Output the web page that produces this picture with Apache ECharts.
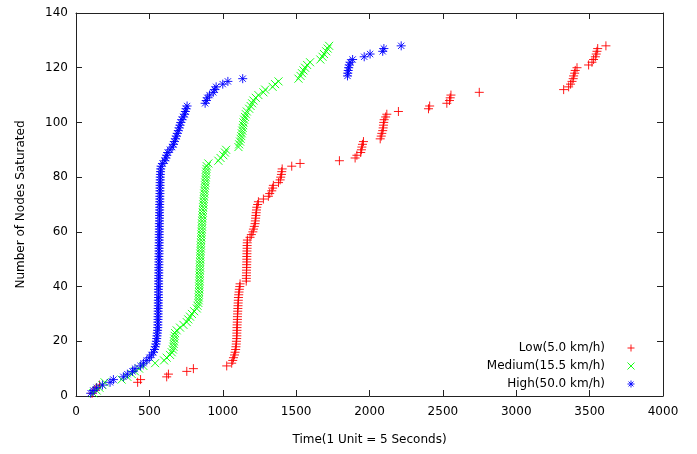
<!DOCTYPE html>
<html>
<head>
<meta charset="utf-8">
<script src="https://cdn.jsdelivr.net/npm/echarts@6/dist/echarts.min.js"></script>
<style>
html,body{margin:0;padding:0;background:#fff;}
#chart{width:697px;height:454px;}
</style>
</head>
<body>
<div id="chart"></div>
<script>
// Number of nodes saturated (y values), shared by all series
var nodes = [1,2,3,4,5,6,7,8,9,10,11,12,13,14,15,16,17,18,19,20,21,22,23,24,25,26,27,28,29,30,31,32,33,34,35,36,37,38,39,40,41,42,43,44,45,46,47,48,49,50,51,52,53,54,55,56,57,58,59,60,61,62,63,64,65,66,67,68,69,70,71,72,73,74,75,76,77,78,79,80,81,82,83,84,85,86,87,88,89,90,91,92,93,94,95,96,97,98,99,100,101,102,103,104,105,106,107,108,109,110,111,112,113,114,115,116,117,118,119,120,121,122,123,124,125,126,127,128];

// Time (x) at which each node saturated
var lowTimes = [110,125,140,160,420,440,618,630,755,800,1027,1061,1068,1073,1080,1084,1088,1090,1092,1093,1095,
  1096,1096,1097,1097,1098,1099,1100,1100,1101,1102,1103,1104,1105,1106,1107,1109,1111,1113,1116,1118,
  1160,1161,1161,1162,1162,1163,1163,1164,1164,1164,1165,1165,1166,1166,1167,1168,
  1186,1195,1205,1209,1215,1220,1222,1224,1226,1228,1230,1232,1238,1243,1277,1311,1320,1334,1340,1345,1380,1391,1395,1400,1402,1405,1470,1527,
  1795,1902,1914,1940,1945,1948,1952,1959,2073,2080,2084,2090,2093,2095,2097,2100,2110,2118,2197,2402,2410,2527,2545,2550,2555,2748,3323,3357,3370,3380,3388,3391,3398,3402,3414,3493,3516,3527,3539,3545,3550,3555,3611];

var mediumTimes = [118,141,160,180,195,311,350,380,402,430,459,539,600,618,641,652,660,664,666,668,670,672,675,686,709,732,755,765,777,790,805,823,828,834,
  836,837,838,839,840,840,841,842,842,843,
  843,844,845,845,846,847,847,848,849,850,
  851,852,853,854,855,856,857,858,859,860,
  861,862,864,865,866,868,869,871,872,874,
  876,878,880,881,883,884,886,887,889,891,
  902,970,985,1004,1015,1023,1107,1112,1118,1122,1126,1130,1133,1136,1139,1141,1146,1152,1158,1164,1180,1190,1200,1209,1225,1243,1277,1289,1340,1357,1380,1516,1530,1540,1550,1561,1575,1595,1665,1680,1690,1705,1715,1725];

var highTimes = [100,118,141,180,232,255,323,350,385,402,440,460,482,500,515,527,535,540,545,548,550,552,554,556,
  557,558,558,559,559,560,560,560,561,561,
  561,562,562,562,562,563,563,563,563,564,
  564,564,564,565,565,565,565,566,566,566,
  566,567,567,567,567,568,568,568,568,569,
  569,569,569,570,570,570,571,571,571,572,
  572,572,573,573,574,574,575,576,577,580,
  590,605,612,618,625,640,655,664,670,678,684,690,697,703,708,714,722,730,740,745,750,757,
  880,888,895,910,935,945,955,1000,1035,1136,1850,1852,1855,1858,1862,1868,1885,1964,2004,2090,2098,2216];

var seriesNames = ['Low(5.0 km/h)', 'Medium(15.5 km/h)', 'High(50.0 km/h)'];
var xTicks = {min: 0, max: 4000, step: 500};
var yTicks = {min: 0, max: 140, step: 20};

function pairs(xs) {
  return xs.map(function (x, i) { return [x, nodes[i]]; });
}

var PLUS = 'path://M0,5L10,5M5,0L5,10';
var CROSS = 'path://M0,0L10,10M10,0L0,10';
var STAR = 'path://M0,5L10,5M5,0L5,10M1.5,1.5L8.5,8.5M8.5,1.5L1.5,8.5';

var FONT = 'DejaVu Sans';
var axisColor = '#222';

function mkSeries(name, xs, sym, color, size) {
  return {
    name: name,
    type: 'scatter',
    data: pairs(xs),
    symbol: sym,
    symbolSize: size,
    xAxisIndex: 0,
    yAxisIndex: 0,
    itemStyle: {color: color, borderColor: color, borderWidth: 1, opacity: 0.9},
    emphasis: {disabled: true},
    silent: true
  };
}

function plain(v) { return String(v); }

var chart = echarts.init(document.getElementById('chart'), null, {renderer: 'canvas'});
chart.setOption({
  animation: false,
  backgroundColor: '#ffffff',
  textStyle: {fontFamily: FONT},
  grid: {left: 76, right: 34, top: 13, bottom: 58, containLabel: false},
  legend: {
    orient: 'vertical',
    right: 57,
    top: 336,
    align: 'right',
    itemWidth: 42,
    itemHeight: 7,
    itemGap: 4,
    selectedMode: false,
    itemStyle: {borderWidth: 1},
    textStyle: {fontFamily: FONT, fontSize: 12, color: '#000', lineHeight: 14},
    data: seriesNames
  },
  xAxis: [{
    type: 'value', position: 'bottom',
    min: xTicks.min, max: xTicks.max, interval: xTicks.step,
    name: 'Time(1 Unit = 5 Seconds)', nameLocation: 'middle', nameGap: 38,
    nameTextStyle: {fontFamily: FONT, fontSize: 12, color: '#000'},
    axisLine: {show: true, onZero: false, lineStyle: {color: axisColor, width: 1}},
    axisTick: {show: true, inside: true, length: 6, lineStyle: {color: axisColor}},
    axisLabel: {margin: 10, fontFamily: FONT, fontSize: 12, color: '#000', formatter: plain},
    splitLine: {show: false}
  }, {
    type: 'value', position: 'top',
    min: xTicks.min, max: xTicks.max, interval: xTicks.step,
    axisLine: {show: true, onZero: false, lineStyle: {color: axisColor, width: 1}},
    axisTick: {show: true, inside: true, length: 6, lineStyle: {color: axisColor}},
    axisLabel: {show: false},
    splitLine: {show: false}
  }],
  yAxis: [{
    type: 'value', position: 'left',
    min: yTicks.min, max: yTicks.max, interval: yTicks.step,
    name: 'Number of Nodes Saturated', nameLocation: 'middle', nameGap: 49,
    nameTextStyle: {fontFamily: FONT, fontSize: 12, color: '#000'},
    axisLine: {show: true, onZero: false, lineStyle: {color: axisColor, width: 1}},
    axisTick: {show: true, inside: true, length: 6, lineStyle: {color: axisColor}},
    axisLabel: {margin: 8, fontFamily: FONT, fontSize: 12, color: '#000', formatter: plain},
    splitLine: {show: false}
  }, {
    type: 'value', position: 'right',
    min: yTicks.min, max: yTicks.max, interval: yTicks.step,
    axisLine: {show: true, onZero: false, lineStyle: {color: axisColor, width: 1}},
    axisTick: {show: true, inside: true, length: 6, lineStyle: {color: axisColor}},
    axisLabel: {show: false},
    splitLine: {show: false}
  }],
  series: [
    mkSeries(seriesNames[0], lowTimes, PLUS, '#ff0000', 9),
    mkSeries(seriesNames[1], mediumTimes, CROSS, '#00ff00', 8),
    mkSeries(seriesNames[2], highTimes, STAR, '#0000ff', 9)
  ]
});
</script>
</body>
</html>
